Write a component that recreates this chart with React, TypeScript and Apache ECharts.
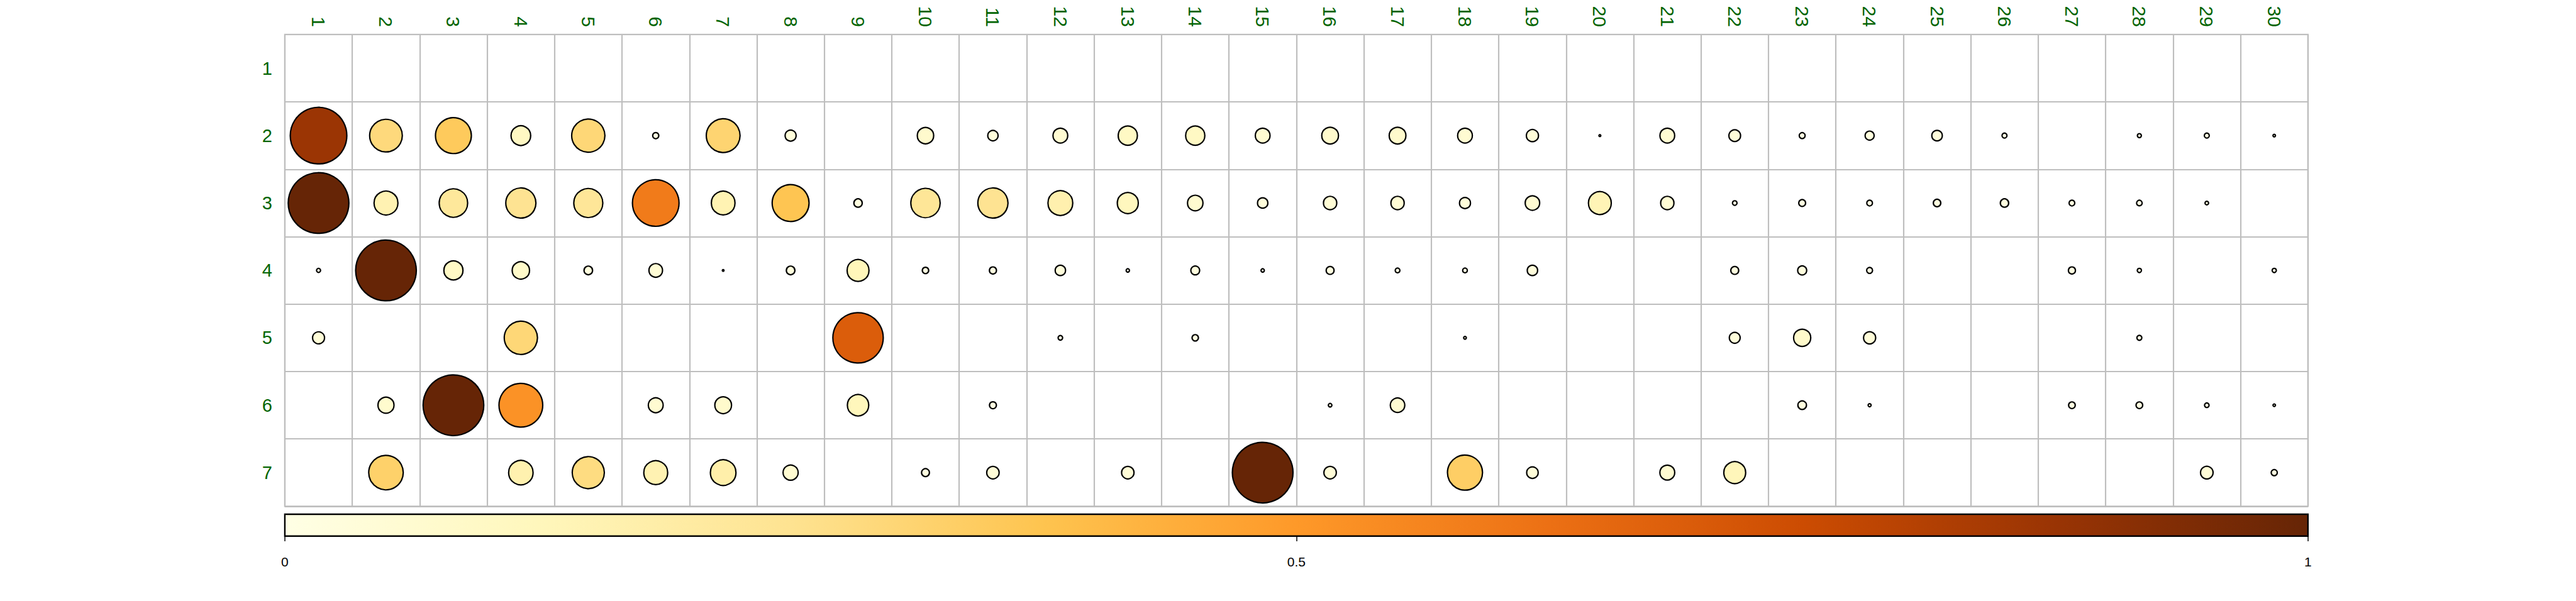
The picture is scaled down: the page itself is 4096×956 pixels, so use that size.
import React, { useEffect, useRef } from "react";
import * as echarts from "echarts";

const colLabels = Array.from({ length: 30 }, (_, i) => String(i + 1));
const rowLabels = ["1", "2", "3", "4", "5", "6", "7"];

const row1 = [null, null, null, null, null, null, null, null, null, null, null, null, null, null, null, null, null, null, null, null, null, null, null, null, null, null, null, null, null, null];
const row2 = [0.87, 0.29, 0.35, 0.105, 0.3, 0.01, 0.31, 0.033, null, 0.073, 0.029, 0.059, 0.1, 0.1, 0.059, 0.076, 0.076, 0.059, 0.04, 0.001, 0.059, 0.037, 0.0095, 0.022, 0.03, 0.0067, null, 0.0044, 0.0067, 0.0017];
const row3 = [1.0, 0.155, 0.22, 0.247, 0.229, 0.59, 0.152, 0.37, 0.019, 0.234, 0.247, 0.167, 0.12, 0.065, 0.029, 0.048, 0.048, 0.033, 0.057, 0.142, 0.048, 0.0057, 0.0128, 0.0089, 0.015, 0.019, 0.0089, 0.0085, 0.0035, null];
const row4 = [0.0044, 1.0, 0.099, 0.082, 0.02, 0.05, 0.0008, 0.02, 0.13, 0.011, 0.0135, 0.029, 0.003, 0.021, 0.003, 0.017, 0.006, 0.006, 0.029, null, null, 0.017, 0.022, 0.0095, null, null, 0.0135, 0.0048, null, 0.0048];
const row5 = [0.039, null, null, 0.3, null, null, null, null, 0.69, null, null, 0.0057, null, 0.011, null, null, null, 0.002, null, null, null, 0.032, 0.08, 0.04, null, null, null, 0.0067, null, null];
const row6 = [null, 0.07, 1.0, 0.52, null, 0.06, 0.076, null, 0.124, null, 0.013, null, null, null, null, 0.0035, 0.057, null, null, null, null, null, 0.02, 0.0025, null, null, 0.012, 0.012, 0.0057, 0.0017];
const row7 = [null, 0.324, null, 0.162, 0.28, 0.155, 0.178, 0.062, null, 0.017, 0.042, null, 0.042, null, 1.0, 0.042, null, 0.334, 0.036, null, 0.06, 0.13, null, null, null, null, null, null, 0.043, 0.01];

const rows = [row1, row2, row3, row4, row5, row6, row7];

const colorTicks = [0, 0.5, 1];
const palette = ["#FFFFE5", "#FFF7BC", "#FEE391", "#FEC44F", "#FE9929", "#EC7014", "#CC4C02", "#993404", "#662506"];

const CELL = 107.2;
const GREEN = "#006400";
const FONT = "Liberation Sans";

export default function App() {
  const ref = useRef<HTMLDivElement>(null);
  useEffect(() => {
    if (!ref.current) return;
    const chart = echarts.init(ref.current, null, { renderer: "svg" });
    const data: any[] = [];
    rows.forEach((r, yi) => {
      r.forEach((v, xi) => {
        if (v !== null && v !== undefined) data.push([xi, yi, v]);
      });
    });
    const grad = new echarts.graphic.LinearGradient(
      0, 0, 1, 0,
      palette.map((c, i) => ({ offset: i / (palette.length - 1), color: c }))
    );
    chart.setOption({
      animation: false,
      backgroundColor: "#ffffff",
      grid: [
        {
          left: 452.9, right: 426.2, top: 54.9, bottom: 150.6,
          show: true, borderColor: "#BEBEBE", borderWidth: 2.2, backgroundColor: "transparent",
        },
        {
          left: 452.9, right: 426.2, top: 818, height: 34.7,
          show: true, borderColor: "#000000", borderWidth: 2.4, backgroundColor: grad,
        },
      ],
      visualMap: {
        show: false, type: "continuous", min: 0, max: 1, dimension: 2, seriesIndex: 0,
        inRange: { color: palette },
      },
      xAxis: [
        {
          type: "category", data: colLabels, position: "top", gridIndex: 0,
          axisLine: { show: false }, axisTick: { show: false },
          splitLine: { show: true, lineStyle: { color: "#BEBEBE", width: 2.2 } },
          axisLabel: { rotate: 90, color: GREEN, fontSize: 30, fontFamily: FONT, margin: 12, interval: 0 },
        },
        {
          type: "value", gridIndex: 1, min: 0, max: 1, interval: 0.5, position: "bottom",
          axisLine: { show: false },
          axisTick: { show: true, length: 8.2, lineStyle: { color: "#000", width: 1.5 } },
          splitLine: { show: false },
          axisLabel: {
            color: "#000", fontSize: 21, fontFamily: FONT, margin: 30,
            customValues: colorTicks,
          },
        },
      ],
      yAxis: [
        {
          type: "category", data: rowLabels, inverse: true, gridIndex: 0,
          axisLine: { show: false }, axisTick: { show: false },
          splitLine: { show: true, lineStyle: { color: "#BEBEBE", width: 2.2 } },
          axisLabel: { color: GREEN, fontSize: 29, fontFamily: FONT, margin: 20 },
        },
        { type: "value", gridIndex: 1, show: false, min: 0, max: 1 },
      ],
      series: [
        {
          type: "scatter", xAxisIndex: 0, yAxisIndex: 0, data,
          symbol: "circle",
          symbolSize: (val: number[]) => 0.9 * CELL * Math.sqrt(val[2]),
          itemStyle: { borderColor: "#000000", borderWidth: 2.2, opacity: 1 },
          emphasis: { disabled: true },
        },
      ],
    });
    return () => chart.dispose();
  }, []);
  return <div ref={ref} style={{ position: "absolute", left: 0, top: 0, width: 4096, height: 956 }} />;
}
